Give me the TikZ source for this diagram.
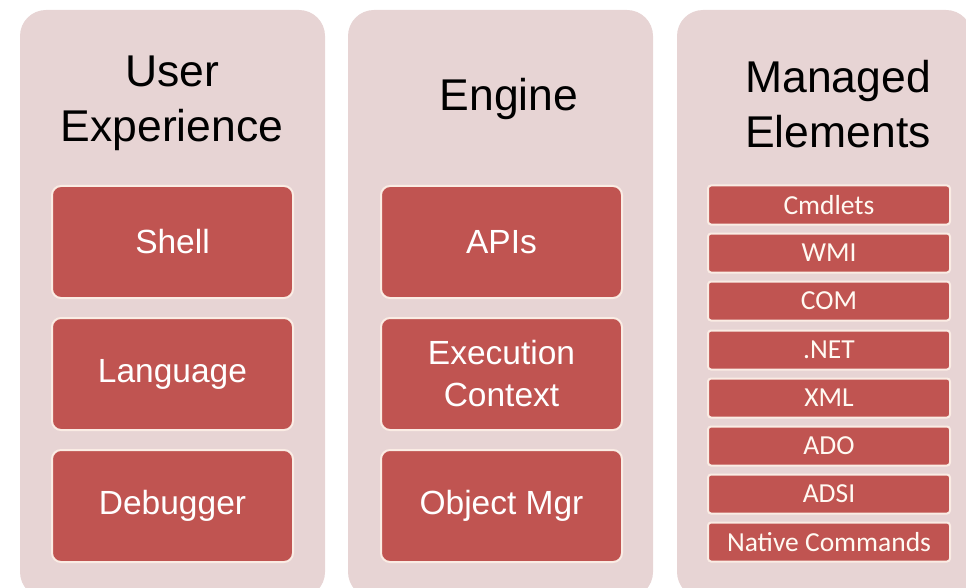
\documentclass[tikz,border=0pt]{standalone}
\usepackage{fontspec}
\setmainfont{Liberation Sans}
\newfontfamily\chipfont{Carlito}
\usetikzlibrary{positioning}

\definecolor{panelpink}{RGB}{231,212,212}
\definecolor{blockred}{RGB}{192,84,81}
\definecolor{rimcream}{RGB}{250,236,228}

\tikzset{
  panel/.style={fill=panelpink, rounded corners=26pt},
  title/.style={align=center, text=black, font=\fontsize{44.5}{55}\selectfont},
  block/.style={fill=blockred, draw=rimcream, line width=2pt, rounded corners=9pt,
    minimum width=241pt, minimum height=112pt, align=center, text=white,
    font=\fontsize{33.5}{42}\selectfont},
  chip/.style={fill=blockred, draw=rimcream, line width=2pt, rounded corners=3pt,
    minimum width=242pt, minimum height=39pt, text=white!95!orange,
    font=\chipfont\fontsize{27.5}{30}\selectfont}
}

\begin{document}
\begin{tikzpicture}[x=1pt, y=-1pt]
		\useasboundingbox (0,0) rectangle (966,588);

		% Panels
		\fill[panel] (20,10) rectangle (325,598);
		\fill[panel] (348,10) rectangle (653,598);
		\fill[panel] (677,10) rectangle (972,598);

		% Titles
		\node[title] (ux) at (172,103) {User\\Experience};
		\node[title] (engine) at (509,99) {Engine};
		\node[title] (managed) at (838,104) {Managed\\Elements};

		% User experience blocks
		\node[block] (shell) at (172.5,242) {Shell};
		\node[block] (language) at (172.5,374) {Language};
		\node[block] (debugger) at (172.5,506) {Debugger};

		% Engine blocks
		\node[block] (apis) at (501.5,242) {APIs};
		\node[block] (context) at (501.5,374) {Execution\\Context};
		\node[block] (objmgr) at (501.5,506) {Object Mgr};

		% Managed elements
		\node[chip] (cmdlets) at (829,205) {Cmdlets};
		\node[chip] (wmi) at (829,253) {WMI};
		\node[chip] (com) at (829,301) {COM};
		\node[chip] (dotnet) at (829,350) {.NET};
		\node[chip] (xml) at (829,398) {XML};
		\node[chip] (ado) at (829,446) {ADO};
		\node[chip] (adsi) at (829,494) {ADSI};
		\node[chip] (native) at (829,542) {Native Commands};
	\end{tikzpicture}
\end{document}
